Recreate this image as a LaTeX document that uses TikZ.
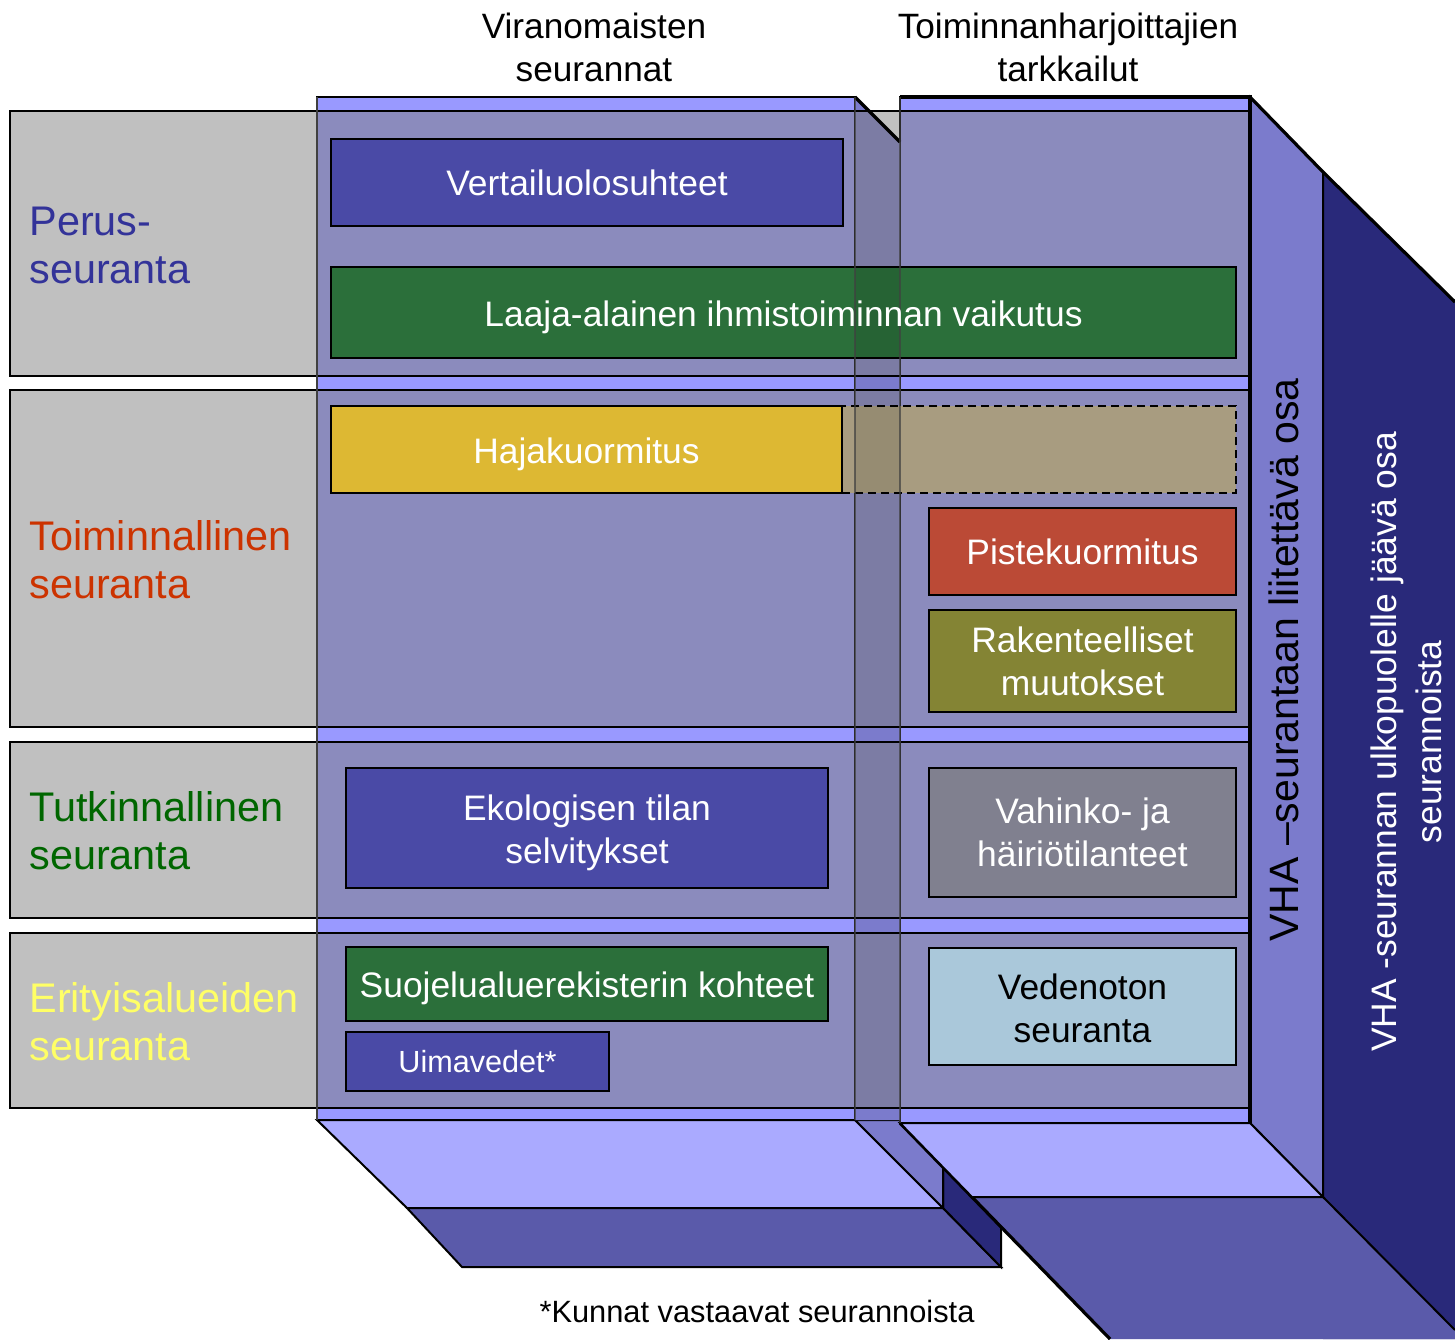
\documentclass[tikz,border=0pt]{standalone}
\usepackage{fontspec}
\setmainfont{Liberation Sans}
\usetikzlibrary{fit}
\definecolor{gband}{HTML}{C0C0C0}
\definecolor{cell}{HTML}{8B8BBD}
\definecolor{strip}{HTML}{9999FF}
\definecolor{side}{HTML}{7B7BCC}
\definecolor{gapcell}{HTML}{7C7CA4}
\definecolor{light}{HTML}{AAAAFF}
\definecolor{slab}{HTML}{5A5AAA}
\definecolor{navy}{HTML}{29297A}
\definecolor{bblue}{HTML}{4A4AA6}
\definecolor{bgreen}{HTML}{2B6F3A}
\definecolor{byellow}{HTML}{DDB833}
\definecolor{btan}{HTML}{A89C80}
\definecolor{bred}{HTML}{BB4A36}
\definecolor{bolive}{HTML}{848434}
\definecolor{bgray}{HTML}{80808F}
\definecolor{blight}{HTML}{AAC8DA}
\definecolor{lblue}{HTML}{333399}
\definecolor{lred}{HTML}{CC3300}
\definecolor{lgreen}{HTML}{006600}
\definecolor{lyellow}{HTML}{FFFF66}
\begin{document}
\begin{tikzpicture}[x=0.5pt,y=-0.5pt,
  edge/.style={draw=black,line width=1pt},
  thickedge/.style={draw=black,line width=1.6pt},
  gapline/.style={draw=black!75,line width=0.8pt},
  box/.style={draw=black,line width=1.4pt,inner sep=0pt},
  boxtext/.style={text=white,align=center,inner sep=0pt,font=\fontsize{17.7}{21.5}\selectfont},
  rowlabel/.style={anchor=west,align=left,inner sep=0pt,font=\fontsize{20.7}{24}\selectfont},
  header/.style={align=center,inner sep=0pt,font=\fontsize{17.6}{21.5}\selectfont},
]
\useasboundingbox (0,0) rectangle (1455,1339);

% outer dark slab (outside VHA)
\fill[navy] (1323,172) -- (1455,302) -- (1455,1339) -- (1323,1339) -- cycle;
\fill[slab] (972,1197) -- (1323,1197) -- (1455,1330) -- (1455,1339) -- (1110,1339) -- cycle;
\draw[edge] (1323,1197) -- (1455,1330);
\draw[thickedge] (1323,172) -- (1455,302);

% bottom of left column
\filldraw[fill=light,edge] (317,1120) -- (855,1120) -- (943,1208) -- (407,1208) -- cycle;
\filldraw[fill=slab,edge] (407,1208) -- (943,1208) -- (1001,1267) -- (462,1267) -- cycle;
\filldraw[fill=navy,edge] (943,1167) -- (1001,1227) -- (1001,1267) -- (943,1208) -- cycle;
\filldraw[fill=side,edge] (855,1120) -- (900,1120) -- (943,1167) -- (943,1208) -- cycle;
\draw[thickedge] (900,1123) -- (1110,1339);

% right column side and bottom
\filldraw[fill=side,edge] (1250,97) -- (1323,172) -- (1323,1197) -- (1250,1123) -- cycle;
\draw[thickedge] (1250,97) -- (1323,172);
\filldraw[fill=light,edge] (900,1123) -- (1250,1123) -- (1323,1197) -- (972,1197) -- cycle;

% grey row bands
\foreach \a/\b in {111/376,390/727,742/918,933/1108}
  \filldraw[fill=gband,edge] (10,\a) rectangle (1250,\b);

% left column front
\filldraw[fill=strip,edge] (317,97) rectangle (855,1120);
\foreach \a/\b in {111/376,390/727,742/918,933/1108}
  \filldraw[fill=cell,edge] (317,\a) rectangle (855,\b);
% right column front
\filldraw[fill=strip,edge] (900,97) rectangle (1250,1123);
\foreach \a/\b in {111/376,390/727,742/918,933/1108}
  \filldraw[fill=cell,edge] (900,\a) rectangle (1250,\b);
\draw[thickedge] (900,97) -- (1250,97) -- (1250,1123);

% gap: side face of the left column
\fill[side] (855,97) -- (900,142) -- (900,1120) -- (855,1120) -- cycle;
\fill[gapcell] (855,111) -- (869,111) -- (900,142) -- (900,376) -- (855,376) -- cycle;
\foreach \a/\b in {390/727,742/918,933/1108}
  \fill[gapcell] (855,\a) rectangle (900,\b);
\foreach \y in {376,390,727,742,918,933,1108}
  \draw[edge] (855,\y) -- (900,\y);
\draw[edge] (855,111) -- (869,111);
\draw[thickedge] (855,97) -- (900,142);

% boxes
\node[box,fill=bblue,fit={(331,139) (843,226)}] (vert) {};
\node[box,fill=bgreen,fit={(331,267) (1236,358)}] (laaja) {};
\node[box,fill=btan,dashed,dash pattern=on 4pt off 2.5pt,line width=1.3pt,fit={(842,406) (1236,493)}] (hajaext) {};
\node[box,fill=byellow,fit={(331,406) (842,493)}] (haja) {};
\node[box,fill=bred,fit={(929,508) (1236,595)}] (piste) {};
\node[box,fill=bolive,fit={(929,610) (1236,712)}] (rak) {};
\node[box,fill=bblue,fit={(346,768) (828,888)}] (eko) {};
\node[box,fill=bgray,fit={(929,768) (1236,897)}] (vah) {};
\node[box,fill=bgreen,fit={(346,947) (828,1021)}] (suo) {};
\node[box,fill=bblue,fit={(346,1032) (609,1091)}] (uima) {};
\node[box,fill=blight,fit={(929,948) (1236,1065)}] (ved) {};

% side-face shading over boxes in the gap
\fill[black,opacity=0.1] (855,267) rectangle (900,358);
\fill[black,opacity=0.1] (855,406) rectangle (900,493);
\draw[gapline,opacity=0.7] (855,97) -- (855,1120);
\draw[gapline,opacity=0.7] (900,97) -- (900,1123);
\draw[gapline] (317,97) -- (317,1120);

% box texts
\node[boxtext] (vertT) at (vert.center) {Vertailuolosuhteet};
\node[boxtext,yshift=-2.5pt] (laajaT) at (laaja.center) {Laaja-alainen ihmistoiminnan vaikutus};
\node[boxtext,yshift=-2.5pt] (hajaT) at (haja.center) {Hajakuormitus};
\node[boxtext] (pisteT) at (piste.center) {Pistekuormitus};
\node[boxtext] (rakT) at (rak.center) {Rakenteelliset\\muutokset};
\node[boxtext,yshift=-2.5pt] (ekoT) at (eko.center) {Ekologisen tilan\\selvitykset};
\node[boxtext] (vahT) at (vah.center) {Vahinko- ja\\häiriötilanteet};
\node[boxtext,yshift=-2pt] (suoT) at (suo.center) {Suojelualuerekisterin kohteet};
\node[boxtext,font=\fontsize{15.3}{18}\selectfont] (uimaT) at (uima.center) {Uimavedet*};
\node[boxtext,text=black,yshift=-1pt] (vedT) at (ved.center) {Vedenoton\\seuranta};

% headers
\node[header] (hv) at (594,47) {Viranomaisten\\seurannat};
\node[header] (ht) at (1068,47) {Toiminnanharjoittajien\\tarkkailut};

% row labels
\node[rowlabel,text=lblue] (lp) at (29,245) {Perus-\\seuranta};
\node[rowlabel,text=lred] (lt) at (29,560) {Toiminnallinen\\seuranta};
\node[rowlabel,text=lgreen] (lk) at (29,831) {Tutkinnallinen\\seuranta};
\node[rowlabel,text=lyellow] (le) at (29,1022) {Erityisalueiden\\seuranta};

% vertical texts
\node[rotate=90,inner sep=0pt,font=\fontsize{20.5}{25}\selectfont] (v1) at (1284,660) {VHA –seurantaan liitettävä osa};
\node[rotate=90,inner sep=0pt,align=center,text=white,font=\fontsize{17.7}{22.5}\selectfont] (v2) at (1406,742) {VHA -seurannan ulkopuolelle jäävä osa\\seurannoista};

% footnote
\node[inner sep=0pt,font=\fontsize{15.4}{18}\selectfont] (fn) at (757,1311) {*Kunnat vastaavat seurannoista};
\end{tikzpicture}
\end{document}
